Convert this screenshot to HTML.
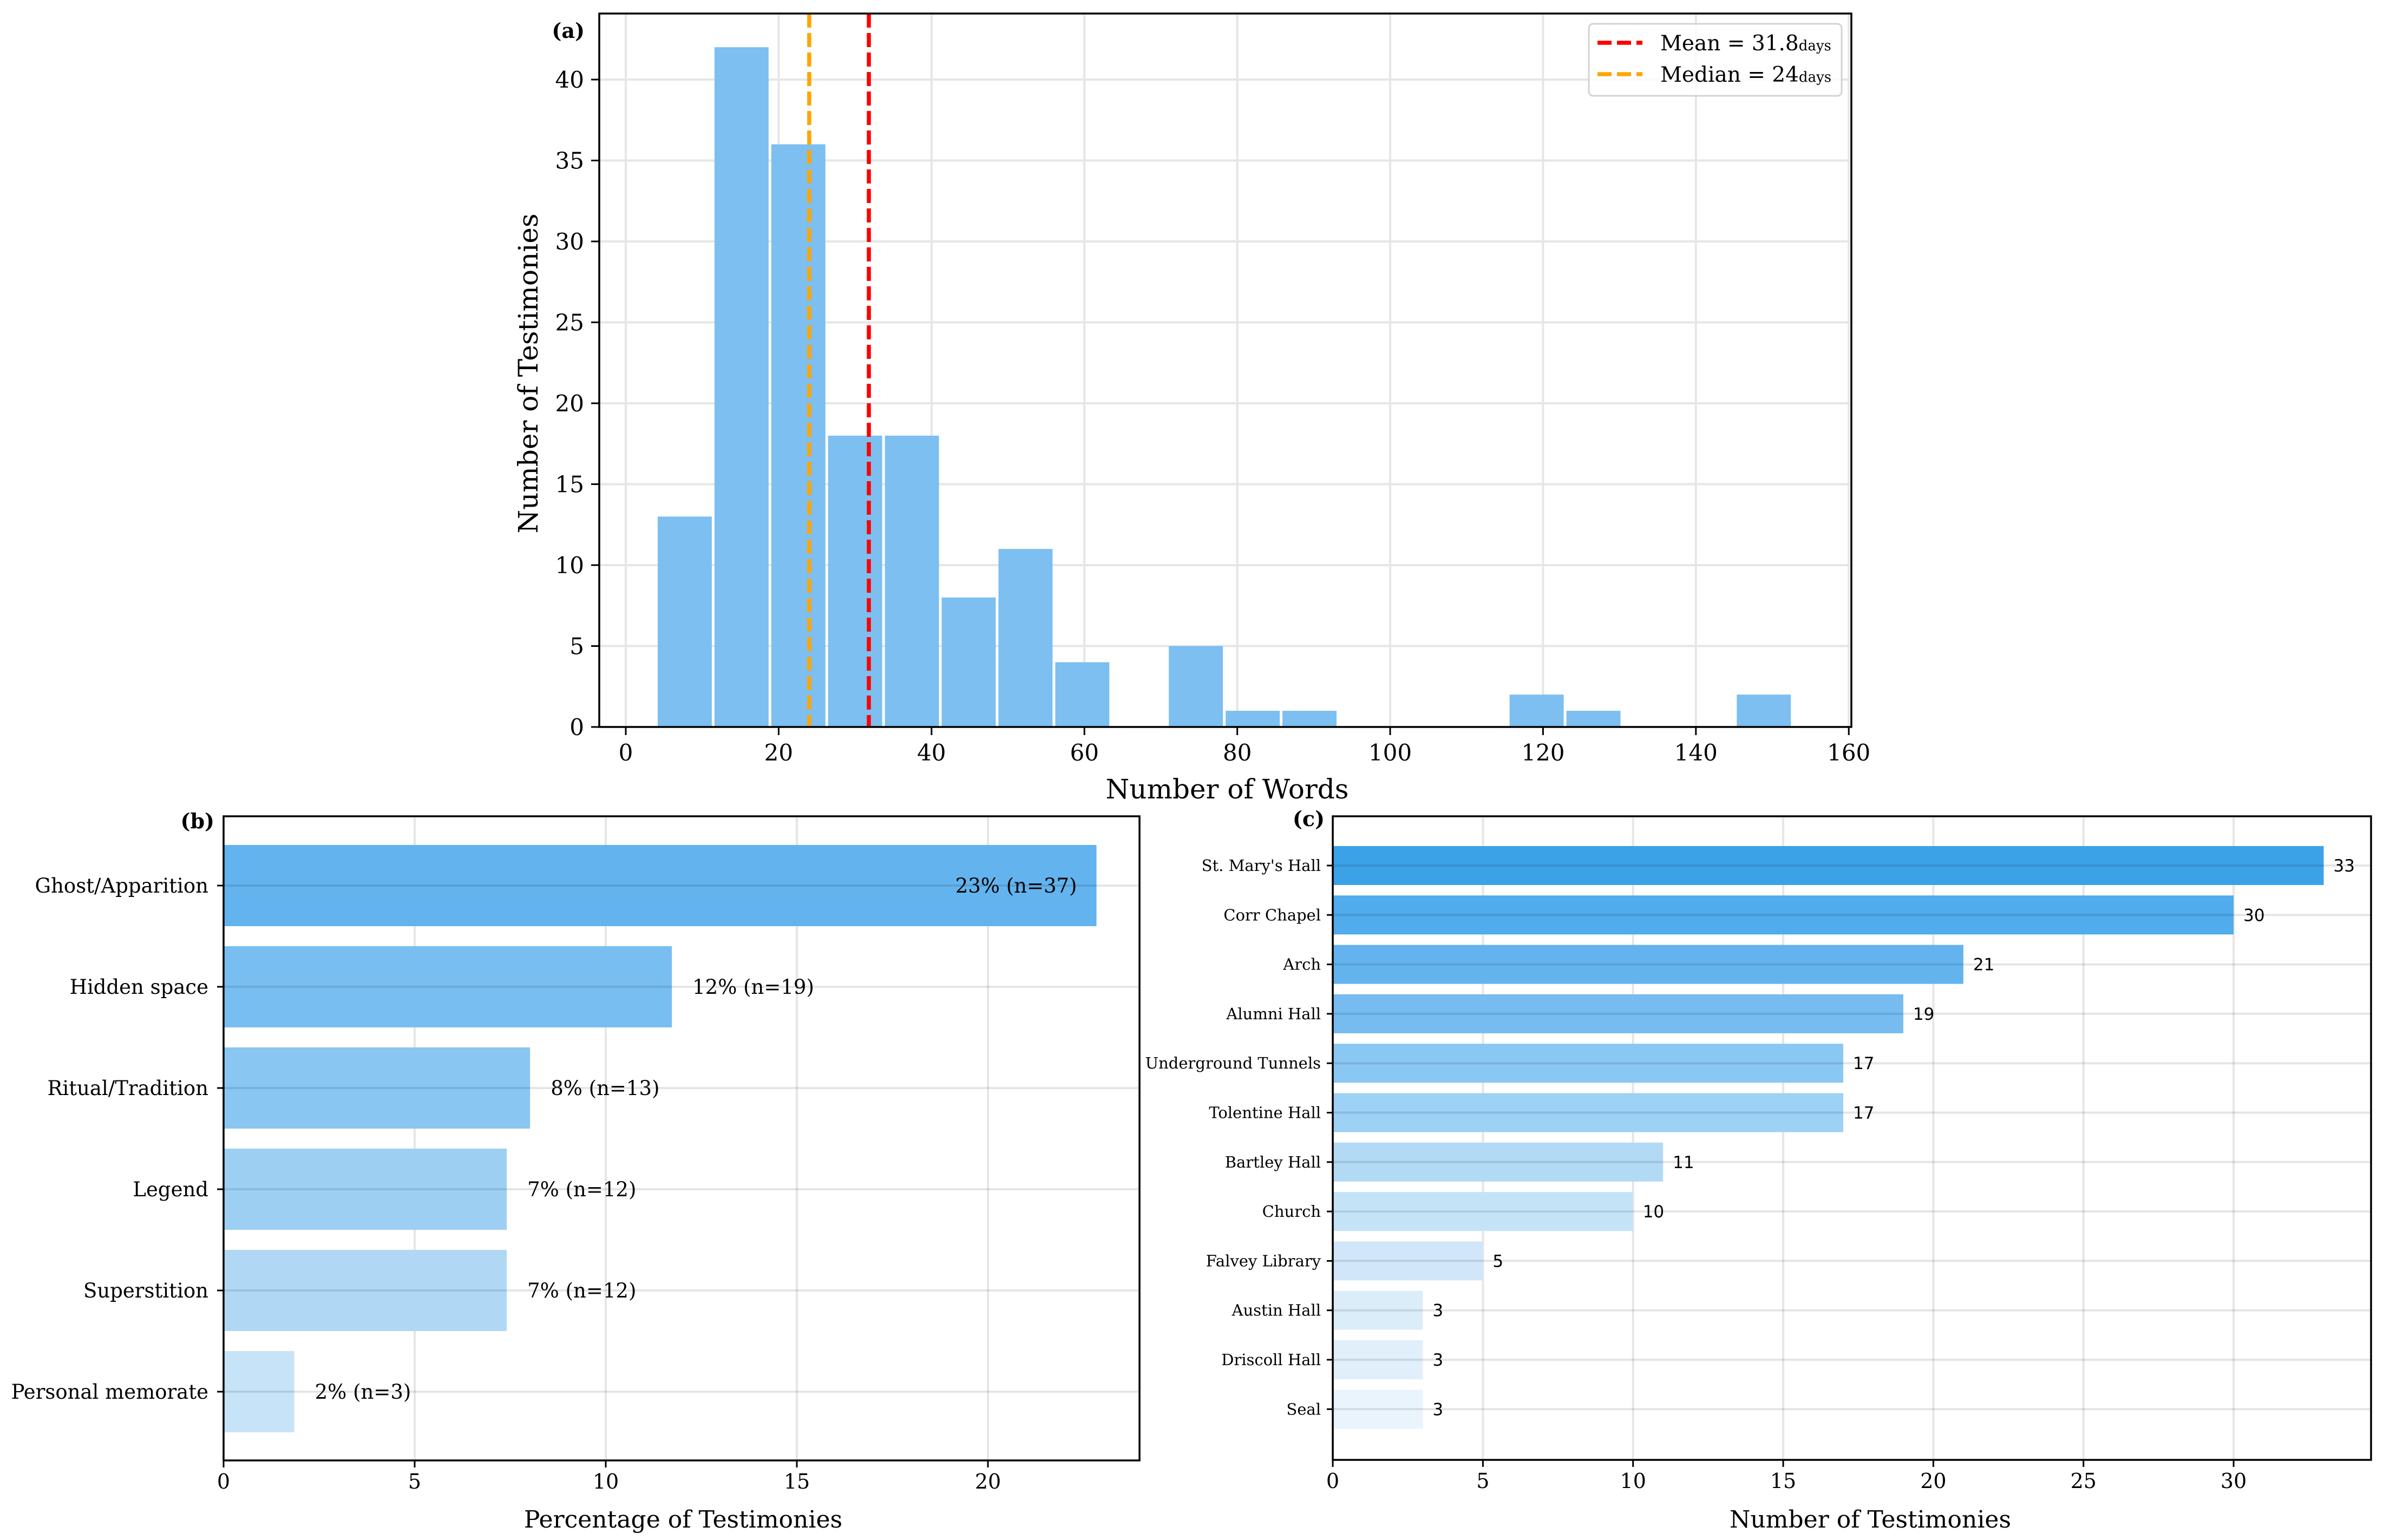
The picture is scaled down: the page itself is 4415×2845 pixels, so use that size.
<!DOCTYPE html>
<html><head><meta charset="utf-8"><style>
html,body{margin:0;padding:0;background:#fff;}
svg{display:block;}
.serif{font-family:"DejaVu Serif","Liberation Serif",serif;}
.sans{font-family:"DejaVu Sans","Liberation Sans",sans-serif;}
</style></head><body>
<svg id="fig" xmlns="http://www.w3.org/2000/svg" width="4415" height="2845" viewBox="0 0 4415 2845">
<rect width="4415" height="2845" fill="#fff"/>
<g id="pa"></g>
<g id="pb"></g>
<g id="pc"></g>
</svg>
<script>
// Panel (a) data
const histBinStart = 4;
const histBinWidth = 7.43;
const histCounts = [13, 42, 36, 18, 18, 8, 11, 4, 0, 5, 1, 1, 0, 0, 0, 2, 1, 0, 0, 2];
const histXTicks = [0, 20, 40, 60, 80, 100, 120, 140, 160];
const histYTicks = [0, 5, 10, 15, 20, 25, 30, 35, 40];
const meanValue = 31.8;
const medianValue = 24;
// Panel (b) data
const typeCategories = ["Ghost/Apparition", "Hidden space", "Ritual/Tradition", "Legend", "Superstition", "Personal memorate"];
const typePercents = [22.84, 11.73, 8.02, 7.41, 7.41, 1.85];
const typeCounts = [37, 19, 13, 12, 12, 3];
const typeXTicks = [0, 5, 10, 15, 20];
// Panel (c) data
const locCategories = ["St. Mary's Hall", "Corr Chapel", "Arch", "Alumni Hall", "Underground Tunnels", "Tolentine Hall", "Bartley Hall", "Church", "Falvey Library", "Austin Hall", "Driscoll Hall", "Seal"];
const locCounts = [33, 30, 21, 19, 17, 17, 11, 10, 5, 3, 3, 3];
const locXTicks = [0, 5, 10, 15, 20, 25, 30];

const NS = "http://www.w3.org/2000/svg";
function mk(parent, tag, attrs, text) {
  const e = document.createElementNS(NS, tag);
  for (const k in attrs) e.setAttribute(k, attrs[k]);
  if (text !== undefined) e.textContent = text;
  parent.appendChild(e);
  return e;
}
const GRID = "#e6e6e6";

// ---------- Panel A ----------
(function () {
  const g = document.getElementById('pa');
  const L = 1107, R = 3420, T = 25, B = 1343;
  const x = v => 1156 + v * 14.12;
  const y = c => B - c * 29.9;
  histXTicks.forEach(t => {
    const l = mk(g, 'line', {x1: x(t), x2: x(t), y1: T, y2: B, stroke: GRID, 'stroke-width': 4});
    
    
  });
  histYTicks.forEach(t => {
    const l = mk(g, 'line', {x1: L, x2: R, y1: y(t), y2: y(t), stroke: GRID, 'stroke-width': 4});
    
    
  });
  histCounts.forEach((c, i) => {
    if (c <= 0) return;
    const x0 = x(histBinStart + i * histBinWidth), x1 = x(histBinStart + (i + 1) * histBinWidth);
    const r = mk(g, 'rect', {x: x0 + 2.5, y: y(c), width: x1 - x0 - 5, height: B - y(c), fill: '#78bdf0', 'fill-opacity': 0.97});
    
    
  });
  const med = mk(g, 'line', {x1: x(medianValue), x2: x(medianValue), y1: T, y2: B, stroke: '#ffa500', 'stroke-width': 7.5, 'stroke-dasharray': '26 10'});
  
  
  const mean = mk(g, 'line', {x1: x(meanValue), x2: x(meanValue), y1: T, y2: B, stroke: '#ff0000', 'stroke-width': 7.5, 'stroke-dasharray': '26 10'});
  
  
  const fr = mk(g, 'rect', {x: L, y: T, width: R - L, height: B - T, fill: 'none', stroke: '#000', 'stroke-width': 3.5});
  
  
  histXTicks.forEach(t => {
    mk(g, 'line', {x1: x(t), x2: x(t), y1: B, y2: B + 15, stroke: '#000', 'stroke-width': 3});
    const tx = mk(g, 'text', {x: x(t), y: B + 62, 'text-anchor': 'middle', 'font-size': 42, class: 'serif'}, String(t));
    
    
  });
  histYTicks.forEach(t => {
    mk(g, 'line', {x1: L - 15, x2: L, y1: y(t), y2: y(t), stroke: '#000', 'stroke-width': 3});
    const tx = mk(g, 'text', {x: L - 28, y: y(t) + 15, 'text-anchor': 'end', 'font-size': 42, class: 'serif'}, String(t));
    
    
  });
  const xl = mk(g, 'text', {x: 2267, y: 1475, 'text-anchor': 'middle', 'font-size': 50, class: 'serif'}, 'Number of Words');
  
  
  const yl = mk(g, 'text', {x: 0, y: 0, 'text-anchor': 'middle', 'font-size': 50, class: 'serif', transform: 'translate(993,690) rotate(-90)'}, 'Number of Testimonies');
  
  
  const pl = mk(g, 'text', {x: 1080, y: 70, 'text-anchor': 'end', 'font-size': 38, 'font-weight': 'bold', class: 'serif'}, '(a)');
  
  
  // legend
  const lg = mk(g, 'g', {});
  
  
  mk(lg, 'rect', {x: 2935, y: 44, width: 467, height: 133, rx: 8, fill: '#fff', 'fill-opacity': 0.8, stroke: '#d3d3d3', 'stroke-width': 3});
  const e1 = mk(lg, 'g', {});
  
  
  mk(e1, 'line', {x1: 2951, x2: 3034, y1: 79, y2: 79, stroke: '#ff0000', 'stroke-width': 7.5, 'stroke-dasharray': '26 10'});
  const t1 = mk(e1, 'text', {x: 3067, y: 93, 'font-size': 39, class: 'serif'});
  mk(t1, 'tspan', {}, 'Mean = ' + meanValue.toFixed(1));
  mk(t1, 'tspan', {'font-size': 26}, 'days');
  const e2 = mk(lg, 'g', {});
  
  
  mk(e2, 'line', {x1: 2951, x2: 3034, y1: 137, y2: 137, stroke: '#ffa500', 'stroke-width': 7.5, 'stroke-dasharray': '26 10'});
  const t2 = mk(e2, 'text', {x: 3067, y: 151, 'font-size': 39, class: 'serif'});
  mk(t2, 'tspan', {}, 'Median = ' + medianValue);
  mk(t2, 'tspan', {'font-size': 26}, 'days');
})();

// ---------- Panel B ----------
(function () {
  const g = document.getElementById('pb');
  const L = 413, R = 2105, T = 1508, B = 2698;
  const x = v => L + v * 70.6;
  const yc = i => 1636 + i * 187;
  const bh = 150;
  const cols = ['#63b3ee', '#79bef0', '#8ac6f2', '#9dcff3', '#b0d8f5', '#c6e3f7'];
  typeXTicks.forEach(t => {
    const l = mk(g, 'line', {x1: x(t), x2: x(t), y1: T, y2: B, stroke: GRID, 'stroke-width': 4});
    
    
  });
  typeCategories.forEach((c, i) => {
    const r = mk(g, 'rect', {x: L, y: yc(i) - bh / 2, width: x(typePercents[i]) - L, height: bh, fill: cols[i]});
    
    
    const gl = mk(g, 'line', {x1: L, x2: R, y1: yc(i), y2: yc(i), stroke: '#000', 'stroke-opacity': 0.1, 'stroke-width': 4});
    
    
    const lbl = Math.round(typePercents[i]) + '% (n=' + typeCounts[i] + ')';
    let tx;
    if (i === 0) {
      tx = mk(g, 'text', {x: x(typePercents[i]) - 36, y: yc(i) + 13, 'text-anchor': 'end', 'font-size': 37, class: 'serif'}, lbl);
    } else {
      tx = mk(g, 'text', {x: x(typePercents[i]) + 38, y: yc(i) + 13, 'font-size': 37, class: 'serif'}, lbl);
    }
    
    
    mk(g, 'line', {x1: L - 12, x2: L, y1: yc(i), y2: yc(i), stroke: '#000', 'stroke-width': 3});
    const tl = mk(g, 'text', {x: L - 28, y: yc(i) + 13, 'text-anchor': 'end', 'font-size': 37, class: 'serif'}, c);
    
    
  });
  const fr = mk(g, 'rect', {x: L, y: T, width: R - L, height: B - T, fill: 'none', stroke: '#000', 'stroke-width': 3.5});
  
  
  typeXTicks.forEach(t => {
    mk(g, 'line', {x1: x(t), x2: x(t), y1: B, y2: B + 13, stroke: '#000', 'stroke-width': 3});
    const tx = mk(g, 'text', {x: x(t), y: B + 52, 'text-anchor': 'middle', 'font-size': 38, class: 'serif'}, String(t));
    
    
  });
  const xl = mk(g, 'text', {x: 1262, y: 2822, 'text-anchor': 'middle', 'font-size': 44, class: 'serif'}, 'Percentage of Testimonies');
  
  
  const pl = mk(g, 'text', {x: 396, y: 1530, 'text-anchor': 'end', 'font-size': 38, 'font-weight': 'bold', class: 'serif'}, '(b)');
  
  
})();

// ---------- Panel C ----------
(function () {
  const g = document.getElementById('pc');
  const L = 2462, R = 4380, T = 1508, B = 2697;
  const x = v => L + v * 55.47;
  const yc = i => 1599 + i * 91.3;
  const bh = 72;
  const cols = ['#3ba2e8', '#50acec', '#63b3ee', '#76bcf0', '#8ac8f4', '#9dd1f5', '#b3daf5', '#c5e3f7', '#d1e6f9', '#dcedfa', '#e1effb', '#eaf4fc'];
  locXTicks.forEach(t => {
    const l = mk(g, 'line', {x1: x(t), x2: x(t), y1: T, y2: B, stroke: GRID, 'stroke-width': 4});
    
    
  });
  locCategories.forEach((c, i) => {
    const r = mk(g, 'rect', {x: L, y: yc(i) - bh / 2, width: x(locCounts[i]) - L, height: bh, fill: cols[i]});
    
    
    const gl = mk(g, 'line', {x1: L, x2: R, y1: yc(i), y2: yc(i), stroke: '#000', 'stroke-opacity': 0.1, 'stroke-width': 4});
    
    
    const tx = mk(g, 'text', {x: x(locCounts[i]) + 18, y: yc(i) + 11, 'font-size': 31, class: 'sans'}, String(locCounts[i]));
    
    
    mk(g, 'line', {x1: L - 11, x2: L, y1: yc(i), y2: yc(i), stroke: '#000', 'stroke-width': 3});
    const tl = mk(g, 'text', {x: L - 22, y: yc(i) + 10, 'text-anchor': 'end', 'font-size': 29, class: 'serif'}, c);
    
    
  });
  const fr = mk(g, 'rect', {x: L, y: T, width: R - L, height: B - T, fill: 'none', stroke: '#000', 'stroke-width': 3.5});
  
  
  locXTicks.forEach(t => {
    mk(g, 'line', {x1: x(t), x2: x(t), y1: B, y2: B + 13, stroke: '#000', 'stroke-width': 3});
    const tx = mk(g, 'text', {x: x(t), y: B + 52, 'text-anchor': 'middle', 'font-size': 38, class: 'serif'}, String(t));
    
    
  });
  const xl = mk(g, 'text', {x: 3455, y: 2822, 'text-anchor': 'middle', 'font-size': 44, class: 'serif'}, 'Number of Testimonies');
  
  
  const pl = mk(g, 'text', {x: 2447, y: 1526, 'text-anchor': 'end', 'font-size': 38, 'font-weight': 'bold', class: 'serif'}, '(c)');
  
  
})();
</script>
</body></html>
